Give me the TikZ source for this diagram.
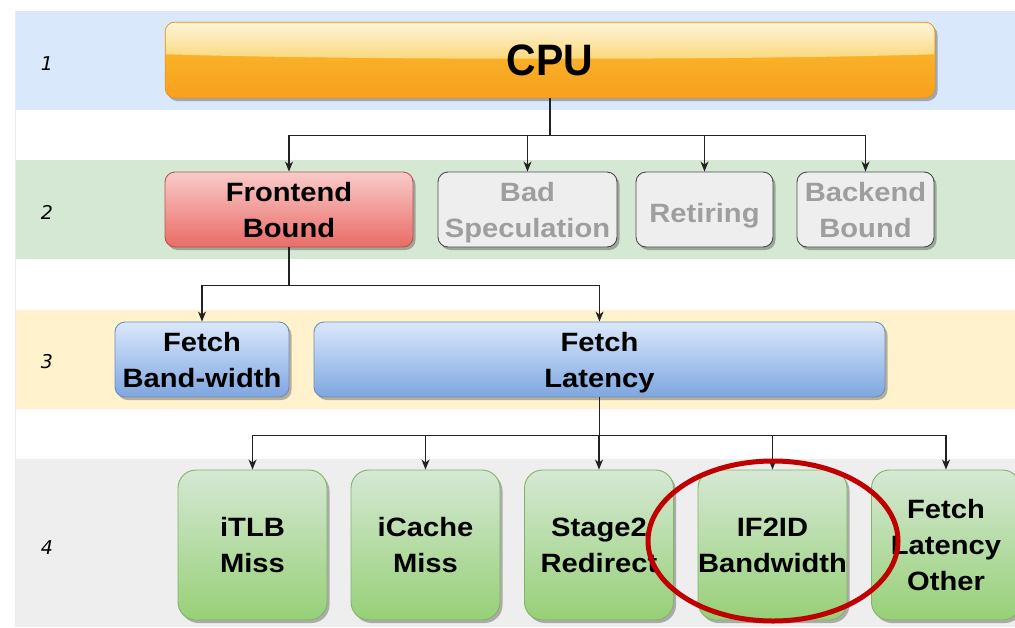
\documentclass[tikz,border=0pt]{standalone}
\usepackage{fontspec}
\setmainfont{Liberation Sans}
\newfontfamily\boxfont{Liberation Sans}[FakeStretch=1.1]
\newfontfamily\cpufont{Liberation Sans}[FakeStretch=0.93]
\newfontfamily\labfont{DejaVu Sans}
\usetikzlibrary{shadows,arrows.meta,calc}
\definecolor{bandA}{HTML}{DAE8FC}
\definecolor{bandB}{HTML}{D5E8D4}
\definecolor{bandC}{HTML}{FFF2CC}
\definecolor{bandD}{HTML}{EEEEEE}
\definecolor{cpuTop}{HTML}{FBBD30}
\definecolor{cpuBot}{HTML}{F8A01E}
\definecolor{glossTop}{HTML}{FEF4D8}
\definecolor{glossBot}{HTML}{FAD779}
\definecolor{redTop}{HTML}{F8CBCA}
\definecolor{redBot}{HTML}{EA6B66}
\definecolor{redLine}{HTML}{B85450}
\definecolor{greyFill}{HTML}{EEEEEE}
\definecolor{greyLine}{HTML}{4A4A4A}
\definecolor{greyText}{HTML}{9E9E9E}
\definecolor{blueTop}{HTML}{DAE8FC}
\definecolor{blueBot}{HTML}{7EA6E0}
\definecolor{blueLine}{HTML}{6C8EBF}
\definecolor{greenTop}{HTML}{D5E8D4}
\definecolor{greenBot}{HTML}{97D077}
\definecolor{greenLine}{HTML}{82B366}
\definecolor{ringRed}{HTML}{C00000}
\definecolor{wire}{HTML}{222222}
\tikzset{
  shadowed/.style={drop shadow={shadow xshift=2.5pt,shadow yshift=-3pt,fill=black,opacity=0.28}},
  boxbase/.style={rounded corners=10pt, inner sep=0pt, line width=0.9pt, shadowed},
  redbox/.style={boxbase, draw=redLine, top color=redTop, bottom color=redBot},
  greybox/.style={boxbase, draw=greyLine, fill=greyFill},
  bluebox/.style={boxbase, draw=blueLine, top color=blueTop, bottom color=blueBot},
  greenbox/.style={boxbase, rounded corners=18pt, draw=greenLine, top color=greenTop, bottom color=greenBot,
    minimum width=149pt, minimum height=150pt},
  lbl/.style={align=center, inner sep=0pt, font=\boxfont\bfseries\fontsize{26.5}{36}\selectfont,
    execute at begin node=\strut, execute at end node=\strut, yshift=-5.5pt},
  arr/.style={-{Stealth[length=10pt,width=8pt,inset=3pt]}, line width=1.2pt, wire},
  lvl/.style={font=\labfont\itshape\fontsize{19}{22}\selectfont, inner sep=0pt},
}
\begin{document}
\begin{tikzpicture}[x=1pt,y=-1pt]
\useasboundingbox (0,0) rectangle (1015,627);
% bands
\fill[bandA] (16,11) rectangle (1015,110);
\fill[bandB] (16,160) rectangle (1015,259);
\fill[bandC] (16,310) rectangle (1015,409);
\fill[bandD] (16,459) rectangle (1015,627);
\draw[line width=0.6pt, black!8] (15.5,11) -- (15.5,627);
% level labels
\node[lvl] (l1) at (47,64) {1};
\node[lvl] (l2) at (47,212) {2};
\node[lvl] (l3) at (47,362) {3};
\node[lvl] (l4) at (47,548) {4};
% CPU
\node[rounded corners=10pt, draw=cpuBot!90!black, line width=0.5pt, top color=cpuTop, bottom color=cpuBot,
      minimum width=770pt, minimum height=76pt, inner sep=0pt, shadowed] (cpu) at (550,60) {};
\shade[top color=glossTop, bottom color=glossBot, rounded corners=9pt]
  ($(cpu.south west)+(1,-44)$) -- ($(cpu.north west)+(1,1)$) -- ($(cpu.north east)+(-1,1)$)
  [sharp corners] -- ($(cpu.south east)+(-1,-44)$) .. controls ($(cpu.south)+(200,-38)$) and ($(cpu.south)+(-200,-38)$) .. cycle;
\node[font=\cpufont\bfseries\fontsize{44}{50}\selectfont, inner sep=0pt] (cputxt) at (cpu.center) {CPU};
% row 2
\node[redbox, minimum width=248pt, minimum height=75pt] (fe) at (289,209.5) {};
\node[greybox, minimum width=179pt, minimum height=75pt] (bs) at (527.5,209.5) {};
\node[greybox, minimum width=137pt, minimum height=75pt] (ret) at (704.5,209.5) {};
\node[greybox, minimum width=137pt, minimum height=75pt] (be) at (865.5,209.5) {};
% row 3
\node[bluebox, minimum width=174pt, minimum height=75pt] (fb) at (202,359.5) {};
\node[bluebox, minimum width=571pt, minimum height=75pt] (fl) at (599.5,359.5) {};
% row 4
\node[greenbox] (itlb) at (252.5,545) {};
\node[greenbox] (icache) at (425.5,545) {};
\node[greenbox] (s2) at (599,545) {};
\node[greenbox] (if2id) at (772.5,545) {};
\node[greenbox] (flo) at (946,545) {};
% texts
\node[lbl] (tfe) at (fe.center) {Frontend\\Bound};
\node[lbl, text=greyText] (tbs) at (bs.center) {Bad\\Speculation};
\node[lbl, text=greyText] (tret) at (ret.center) {Retiring};
\node[lbl, text=greyText] (tbe) at (be.center) {Backend\\Bound};
\node[lbl] (tfb) at (fb.center) {Fetch\\Band-width};
\node[lbl] (tfl) at (fl.center) {Fetch\\Latency};
\node[lbl] (titlb) at (itlb.center) {iTLB\\Miss};
\node[lbl] (ticache) at (icache.center) {iCache\\Miss};
\node[lbl] (ts2) at (s2.center) {Stage2\\Redirect};
\node[lbl] (tif2id) at (if2id.center) {IF2ID\\Bandwidth};
\node[lbl] (tflo) at (flo.center) {Fetch\\Latency\\Other};
% connectors
\foreach \t in {fe,bs,ret,be} \draw[arr] (cpu.south) -- ++(0,37) -| (\t.north);
\foreach \t in {fb,fl} \draw[arr] (fe.south) -- ++(0,38) -| (\t.north);
\foreach \t in {itlb,icache,s2,if2id,flo} \draw[arr] (fl.south) -- ++(0,38) -| (\t.north);
% highlight ring
\draw[ringRed, line width=5pt] (if2id.center) ++(0.5,-4) ellipse [x radius=125pt, y radius=80pt];
\end{tikzpicture}
\end{document}
